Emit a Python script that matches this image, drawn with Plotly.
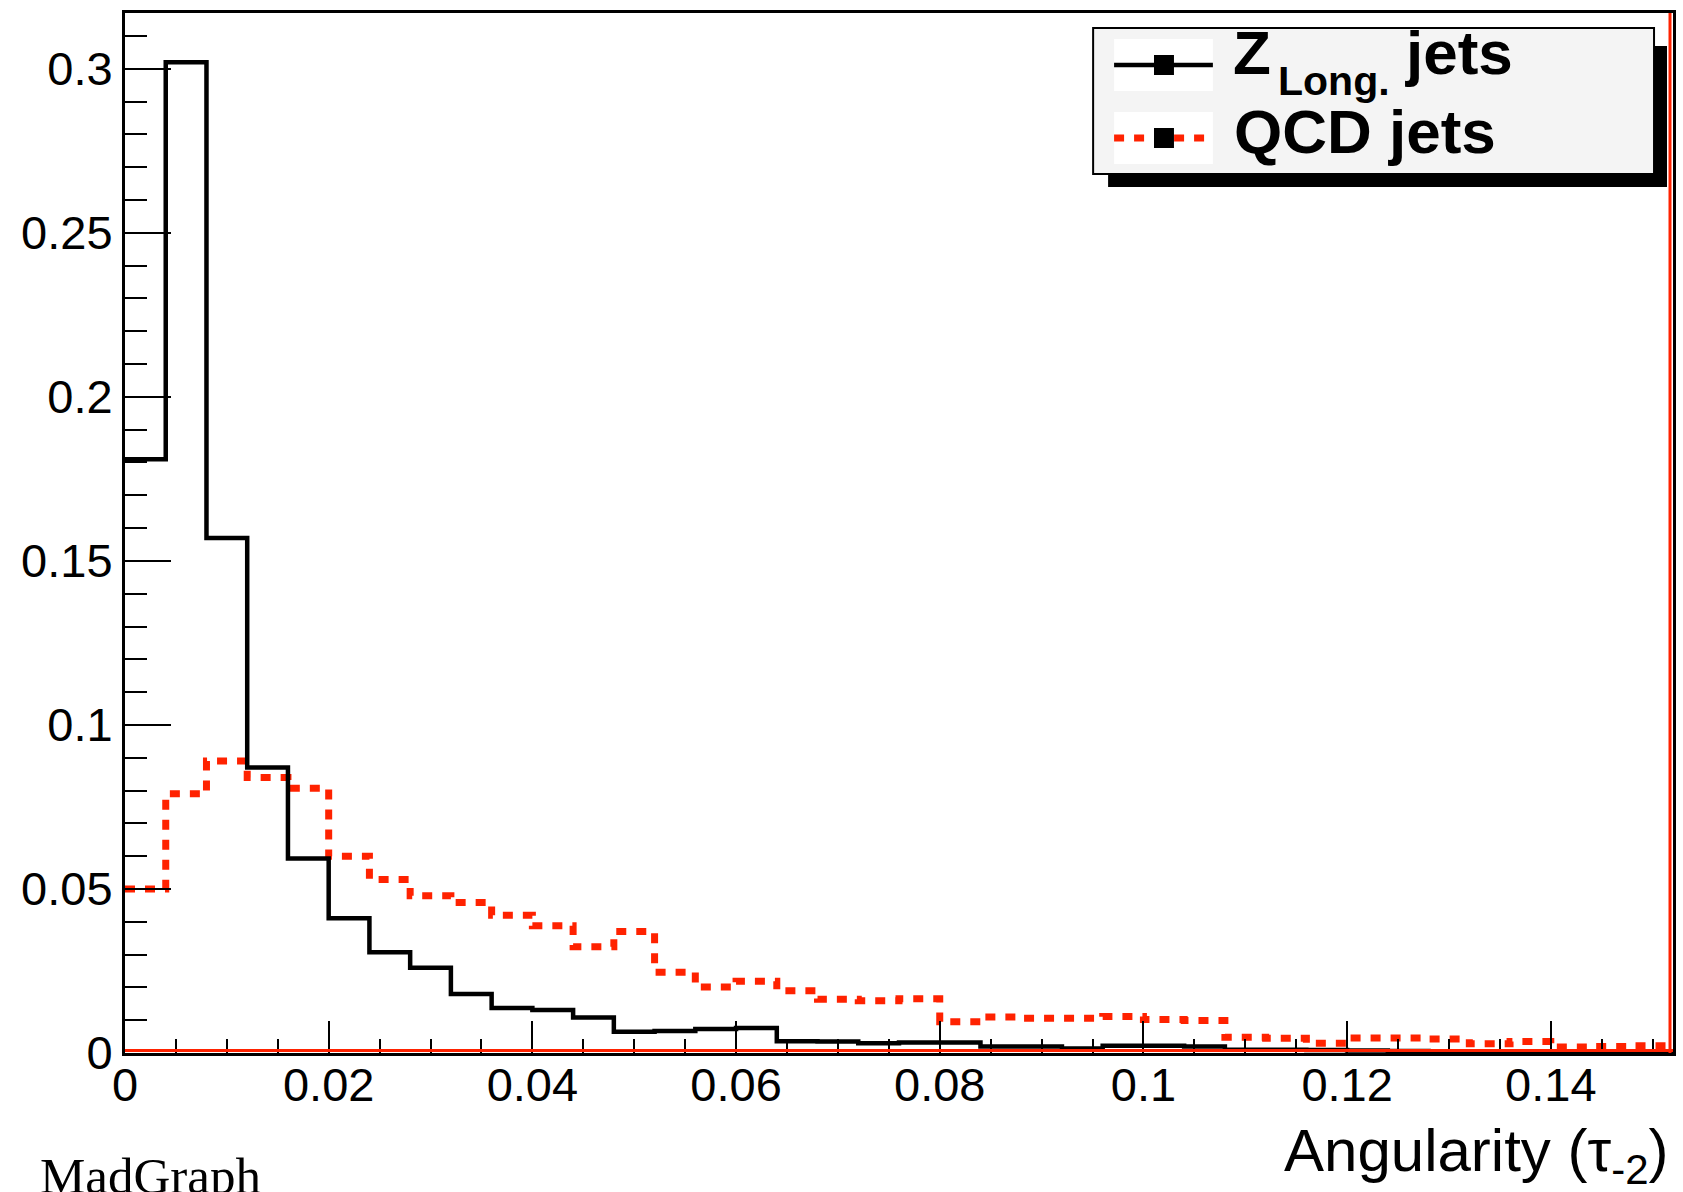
import plotly.graph_objects as go

# ---------------- data ----------------
bin_width = 0.004
n_bins = 38
bin_edges = [round(i * bin_width, 6) for i in range(n_bins + 1)]

z_long_jets = [0.181, 0.302, 0.157, 0.087, 0.0593, 0.0411, 0.0307, 0.026, 0.018, 0.0137,
               0.0131, 0.0108, 0.0065, 0.0067, 0.0073, 0.0076, 0.0036, 0.0035, 0.0030, 0.0032,
               0.0032, 0.0020, 0.0020, 0.0014, 0.0022, 0.0022, 0.0020, 0.0010, 0.0010, 0.0009,
               0.0008, 0.0006, 0.0005, 0.0005, 0.0004, 0.0005, 0.0004, 0.0004]

qcd_jets = [0.050, 0.079, 0.089, 0.084, 0.0807, 0.060, 0.0529, 0.0479, 0.0459, 0.042,
            0.0388, 0.0324, 0.037, 0.0246, 0.0201, 0.0219, 0.019, 0.0164, 0.0159, 0.0165,
            0.0095, 0.0110, 0.0106, 0.0106, 0.0111, 0.0102, 0.0099, 0.0048, 0.0045, 0.0030,
            0.0046, 0.0046, 0.0043, 0.0028, 0.0035, 0.0018, 0.0020, 0.0022]

x_tickvals = [0, 0.02, 0.04, 0.06, 0.08, 0.1, 0.12, 0.14]
x_ticktext = ["0", "0.02", "0.04", "0.06", "0.08", "0.1", "0.12", "0.14"]
y_tickvals = [0, 0.05, 0.1, 0.15, 0.2, 0.25, 0.3]
y_ticktext = ["0", "0.05", "0.1", "0.15", "0.2", "0.25", "0.3"]

legend_z_parts = ["Z", "Long.", "jets"]
legend_qcd = "QCD jets"
x_title = "Angularity (τ<sub>-2</sub>)"
footer = "MadGraph"

# ---------------- layout constants ----------------
W, H = 1683, 1192
L, R, T, B = 125, 1676, 13, 1053
RED = "#ff2200"
FONT = "Liberation Sans, Arial, Helvetica, sans-serif"


def px(xp):
    return (xp - L) / (R - L)


def py(yp):
    return (B - yp) / (B - T)


def step_xy(edges, vals):
    return list(edges), list(vals) + [vals[-1]]


fig = go.Figure()

xs, ys = step_xy(bin_edges, qcd_jets)
fig.add_trace(go.Scatter(x=xs, y=ys, mode="lines", line_shape="hv",
                         line=dict(color=RED, width=7, dash="10px,10px"),
                         name="QCD jets", showlegend=False, hoverinfo="skip"))
xs, ys = step_xy(bin_edges, z_long_jets)
fig.add_trace(go.Scatter(x=xs, y=ys, mode="lines", line_shape="hv",
                         line=dict(color="black", width=4.5),
                         name="Z Long. jets", showlegend=False, hoverinfo="skip"))

shapes = []
# red frame artefacts (baseline and right edge)
shapes.append(dict(type="line", xref="paper", yref="paper", x0=0, x1=1, y0=py(B - 2.5), y1=py(B - 2.5),
                   line=dict(color=RED, width=3), layer="above"))
shapes.append(dict(type="line", xref="paper", yref="paper", x0=px(R - 3), x1=px(R - 3), y0=0, y1=1,
                   line=dict(color=RED, width=3), layer="above"))

# legend: shadow, box
shapes.append(dict(type="rect", xref="paper", yref="paper", x0=px(1110), x1=px(1670), y0=py(187), y1=py(46),
                   line=dict(width=0), fillcolor="black", layer="above"))
shapes.append(dict(type="rect", xref="paper", yref="paper", x0=px(1095), x1=px(1657), y0=py(174), y1=py(28),
                   line=dict(color="black", width=2), fillcolor="#f4f4f4", layer="above"))
# sample backgrounds
for (y0, y1) in [(39, 91), (112, 164)]:
    shapes.append(dict(type="rect", xref="paper", yref="paper", x0=px(1116), x1=px(1215), y0=py(y1), y1=py(y0),
                       line=dict(width=0), fillcolor="white", layer="above"))
# sample lines
shapes.append(dict(type="line", xref="paper", yref="paper", x0=px(1116), x1=px(1215), y0=py(65), y1=py(65),
                   line=dict(color="black", width=4.5), layer="above"))
shapes.append(dict(type="line", xref="paper", yref="paper", x0=px(1116), x1=px(1215), y0=py(138), y1=py(138),
                   line=dict(color=RED, width=7, dash="10px,10px"), layer="above"))
# sample markers
for yc in [65, 138]:
    shapes.append(dict(type="rect", xref="paper", yref="paper", x0=px(1156), x1=px(1176), y0=py(yc + 10),
                       y1=py(yc - 10), line=dict(width=0), fillcolor="black", layer="above"))

annotations = []
# legend texts
annotations.append(dict(text="<b>" + legend_z_parts[0] + "</b>", xref="paper", yref="paper",
                        x=px(1234), y=py(53), xanchor="left", yanchor="middle", showarrow=False,
                        font=dict(family=FONT, size=62, color="black"), borderpad=0))
annotations.append(dict(text="<b>" + legend_z_parts[1] + "</b>", xref="paper", yref="paper",
                        x=px(1279), y=py(81), xanchor="left", yanchor="middle", showarrow=False,
                        font=dict(family=FONT, size=41, color="black"), borderpad=0))
annotations.append(dict(text="<b>" + legend_z_parts[2] + "</b>", xref="paper", yref="paper",
                        x=px(1406), y=py(53), xanchor="left", yanchor="middle", showarrow=False,
                        font=dict(family=FONT, size=62, color="black"), borderpad=0))
annotations.append(dict(text="<b>" + legend_qcd + "</b>", xref="paper", yref="paper",
                        x=px(1234), y=py(131), xanchor="left", yanchor="middle", showarrow=False,
                        font=dict(family=FONT, size=62, color="black")))
annotations.append(dict(text=x_title, xref="paper", yref="paper", x=px(1674), y=py(1155),
                        xanchor="right", yanchor="middle", showarrow=False,
                        font=dict(family=FONT, size=60, color="black")))
annotations.append(dict(text=footer, xref="paper", yref="paper", x=px(38), y=py(1176),
                        xanchor="left", yanchor="middle", showarrow=False,
                        font=dict(family="Liberation Serif, Times New Roman, serif", size=51, color="black")))

fig.update_layout(
    width=W, height=H,
    margin=dict(l=L, r=W - R, t=T, b=H - B, pad=0),
    paper_bgcolor="white", plot_bgcolor="white",
    showlegend=False,
    shapes=shapes, annotations=annotations,
    font=dict(family=FONT, color="black"),
)
fig.update_xaxes(range=[0, 0.152], tickvals=x_tickvals, ticktext=x_ticktext,
                 ticks="inside", ticklen=32, tickwidth=2, tickcolor="black",
                 minor=dict(dtick=0.005, tick0=0, ticks="inside", ticklen=14, tickwidth=2, tickcolor="black"),
                 showline=True, linecolor="black", linewidth=3, mirror=True,
                 showgrid=False, zeroline=False, tickfont=dict(family=FONT, size=47),
                 ticklabelstandoff=-11)
fig.update_yaxes(range=[0, 0.317], tickvals=y_tickvals, ticktext=y_ticktext,
                 ticks="inside", ticklen=46, tickwidth=2, tickcolor="black",
                 minor=dict(dtick=0.01, tick0=0, ticks="inside", ticklen=22, tickwidth=2, tickcolor="black"),
                 showline=True, linecolor="black", linewidth=3, mirror=True,
                 showgrid=False, zeroline=False, tickfont=dict(family=FONT, size=47),
                 ticklabelstandoff=0)

fig.write_html("out.html")
